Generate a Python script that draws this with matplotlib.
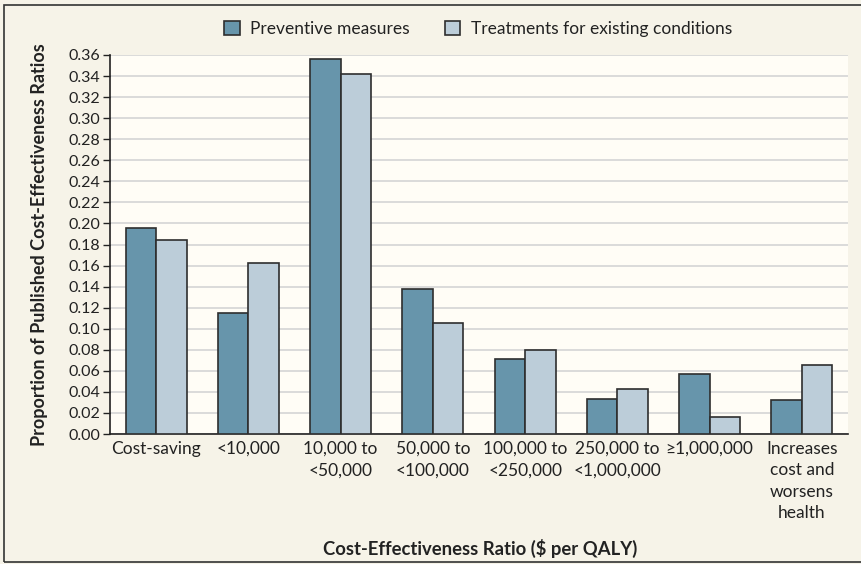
import matplotlib.pyplot as plt
import numpy as np
from matplotlib.patches import Rectangle

plt.rcParams['font.family'] = ['Lato', 'DejaVu Sans']

categories = ['Cost-saving', '<10,000', '10,000 to\n<50,000', '50,000 to\n<100,000',
              '100,000 to\n<250,000', '250,000 to\n<1,000,000', '\u22651,000,000',
              'Increases\ncost and\nworsens\nhealth']
preventive = [0.196, 0.115, 0.356, 0.138, 0.071, 0.033, 0.057, 0.032]
treatment = [0.184, 0.162, 0.342, 0.105, 0.080, 0.043, 0.016, 0.066]
yticks = np.arange(0, 0.3601, 0.02)

bg = '#f6f3e8'
plot_bg = '#fffdf6'
c_prev = '#6795ab'
c_treat = '#bccdd9'
edge = '#2e2e2e'

fig = plt.figure(figsize=(8.62, 5.64), dpi=100, facecolor=bg)
# outer frame
fig.patches.append(Rectangle((0.005, 0.003), 1.2, 0.988, transform=fig.transFigure,
                             fill=False, edgecolor='#333333', lw=1.2))
ax = fig.add_axes([110 / 862, 1 - 434 / 564, 738 / 862, 379 / 564])
ax.set_facecolor(plot_bg)

x = np.arange(len(categories))
w = 0.33
ax.bar(x - w / 2, preventive, w, color=c_prev, edgecolor=edge, lw=1.2,
       label='Preventive measures', zorder=3)
ax.bar(x + w / 2, treatment, w, color=c_treat, edgecolor=edge, lw=1.2,
       label='Treatments for existing conditions', zorder=3)

ax.set_xlim(-0.5, len(categories) - 0.5)
ax.set_ylim(0, 0.36)
ax.set_yticks(yticks)
ax.set_yticklabels([f'{v:.2f}' for v in yticks], fontsize=11.5, color='#222222')
ax.yaxis.grid(True, color='#d8d8d8', lw=1.3, zorder=0)
ax.set_axisbelow(True)
ax.set_xticks(x)
ax.set_xticklabels(categories, fontsize=12.5, color='#222222', linespacing=1.42)
ax.tick_params(axis='x', length=0, pad=5)
ax.tick_params(axis='y', length=5, width=1, color='#222222', pad=2)
for s in ['top', 'right']:
    ax.spines[s].set_visible(False)
for s in ['left', 'bottom']:
    ax.spines[s].set_color('#222222')
    ax.spines[s].set_linewidth(1.2)

ax.set_ylabel('Proportion of Published Cost-Effectiveness Ratios', fontsize=13,
              fontweight='bold', color='#222222')
ax.yaxis.set_label_coords(-0.084, 0.5)
fig.text(480 / 862, 1 - 548 / 564, 'Cost-Effectiveness Ratio ($ per QALY)', ha='center',
         va='center', fontsize=13.3, fontweight='bold', color='#222222')

fig.legend(loc='center', bbox_to_anchor=(478 / 862, 1 - 29 / 564), ncol=2, frameon=False,
           fontsize=12.5, handlelength=0.9, handleheight=0.9, columnspacing=2.0,
           handletextpad=0.6, labelcolor='#222222')

fig.savefig('out.png', dpi=100, facecolor=bg)
